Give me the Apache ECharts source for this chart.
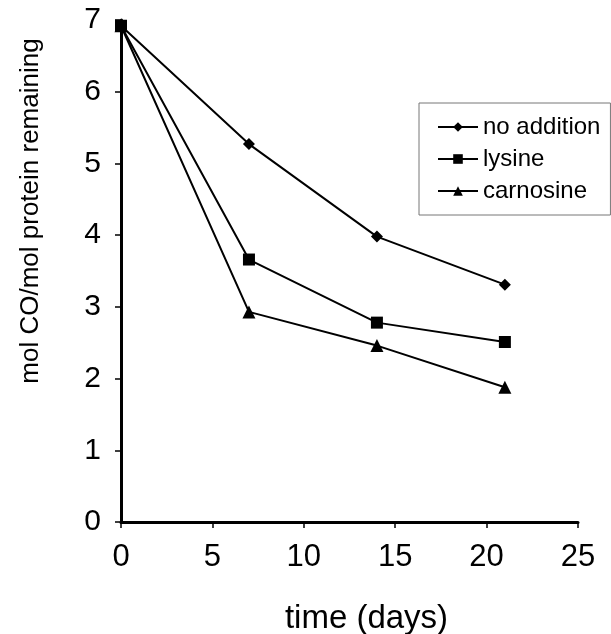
<!DOCTYPE html>
<html>
<head>
<meta charset="utf-8">
<script src="https://cdn.jsdelivr.net/npm/echarts@6/dist/echarts.min.js"></script>
<style>html,body{margin:0;padding:0;background:#fff}#c{width:611px;height:634px}</style>
</head>
<body>
<div id="c"></div>
<script>
const days = [0, 7, 14, 21];
const noAddition = [6.92, 5.27, 3.98, 3.31];
const lysine = [6.92, 3.66, 2.78, 2.51];
const carnosine = [6.92, 2.93, 2.46, 1.88];
const seriesNames = ['no addition', 'lysine', 'carnosine'];
const xTicks = [0, 5, 10, 15, 20, 25];
const yTicks = [0, 1, 2, 3, 4, 5, 6, 7];

const font = 'Liberation Sans, Arial, sans-serif';
function pairs(vals){ return days.map((d,i)=>[d, vals[i]]); }
const symbols = ['diamond', 'rect', 'triangle'];
const sizes = [12, 12, 13];
const data = [noAddition, lysine, carnosine];

const chart = echarts.init(document.getElementById('c'), null, {renderer:'canvas'});
chart.setOption({
  backgroundColor: '#fff',
  animation: false,
  grid: {left: 121, right: 33, top: 20, bottom: 112, containLabel: false, outerBoundsMode: 'none'},
  xAxis: {
    type: 'value', min: xTicks[0], max: xTicks[xTicks.length-1], interval: 5,
    name: 'time (days)', nameLocation: 'middle', nameGap: 80,
    nameTextStyle: {fontFamily: font, fontSize: 33, color: '#000', padding: [0, 0, 0, 34]},
    axisLine: {onZero: false, lineStyle: {color: '#000', width: 3}},
    axisTick: {show: true, length: 6, lineStyle: {color: '#000', width: 1.5}},
    axisLabel: {fontFamily: font, fontSize: 31, color: '#000', margin: 20},
    splitLine: {show: false}
  },
  yAxis: {
    type: 'value', min: yTicks[0], max: yTicks[yTicks.length-1], interval: 1,
    name: 'mol CO/mol protein remaining', nameLocation: 'middle', nameGap: 77,
    nameTextStyle: {fontFamily: font, fontSize: 26, color: '#000', padding: [0, 0, 0, 120]},
    axisLine: {onZero: false, lineStyle: {color: '#000', width: 3}},
    axisTick: {show: true, length: 6, lineStyle: {color: '#000', width: 1.5}},
    axisLabel: {fontFamily: font, fontSize: 30, color: '#000', margin: 20},
    splitLine: {show: false}
  },
  legend: {
    orient: 'vertical', left: 419, top: 103, width: 188,
    padding: [12, 10, 12, 18], itemGap: 8,
    itemWidth: 40, itemHeight: 12,
    borderColor: '#777', borderWidth: 1,
    textStyle: {fontFamily: font, fontSize: 24, color: '#000'},
    data: seriesNames
  },
  series: seriesNames.map((n,i)=>({
    name: n, type: 'line', data: pairs(data[i]),
    symbol: symbols[i], symbolSize: sizes[i],
    lineStyle: {color: '#000', width: 2},
    itemStyle: {color: '#000'},
    z: 3 - i
  }))
});
</script>
</body>
</html>
